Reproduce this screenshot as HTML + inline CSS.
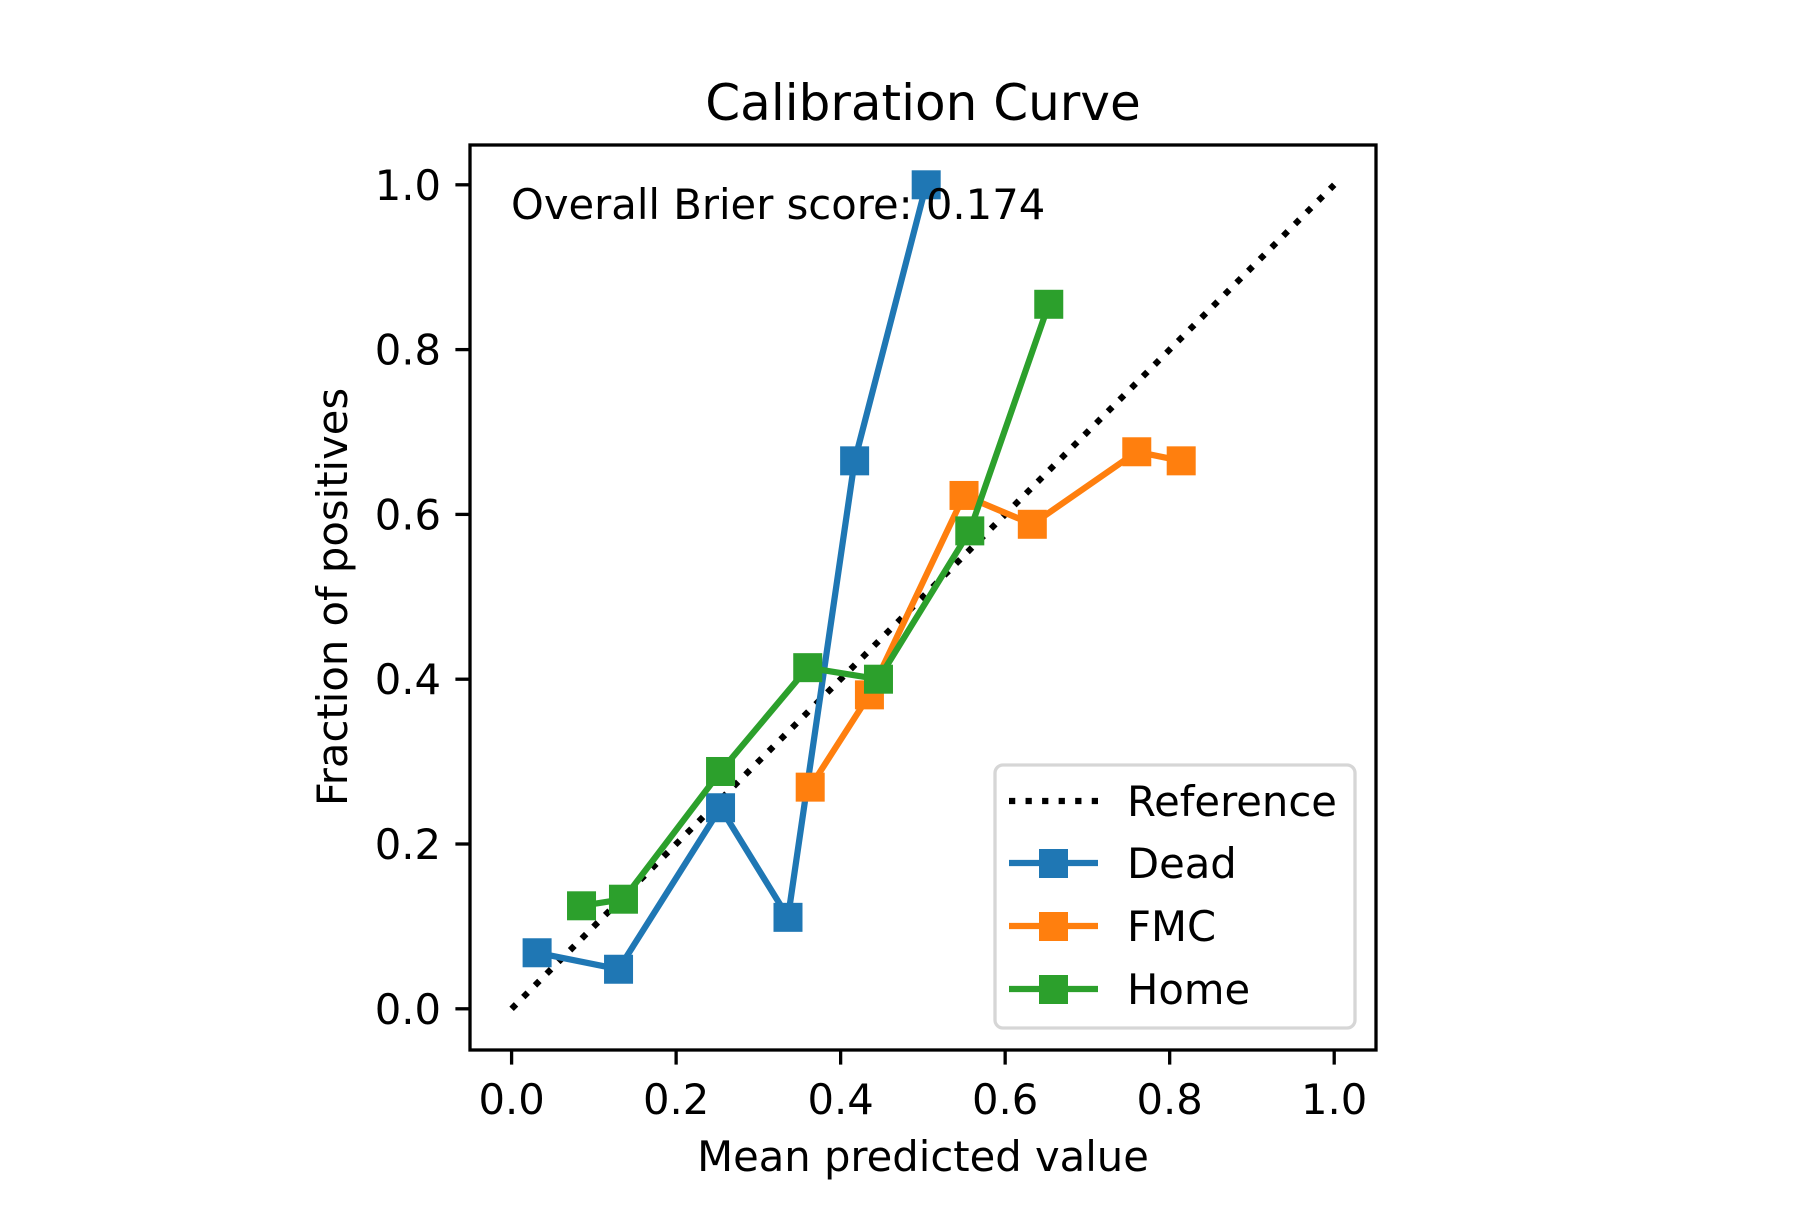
<!DOCTYPE html>
<html><head><meta charset="utf-8"><style>
html,body{margin:0;padding:0;background:#fff;}
svg text{font-family:"DejaVu Sans","Liberation Sans",sans-serif;fill:#000;}
</style></head><body>
<svg id="chart" width="1800" height="1200" viewBox="0 0 1800 1200" xmlns="http://www.w3.org/2000/svg">
<rect width="1800" height="1200" fill="#fff"/>
<text x="923" y="120" font-size="50" text-anchor="middle">Calibration Curve</text>
<g id="plot"></g>
<rect x="470" y="145" width="906" height="905" fill="none" stroke="#000" stroke-width="3.3"/>
<text x="511" y="219" font-size="41.7">Overall Brier score: 0.174</text>
<text x="923" y="1171" font-size="41.7" text-anchor="middle">Mean predicted value</text>
<text transform="translate(347,597) rotate(-90)" font-size="41.7" text-anchor="middle">Fraction of positives</text>
<g id="legend">
<rect x="995" y="765" width="360" height="263" rx="8" fill="#fff" fill-opacity="0.8" stroke="#d6d6d6" stroke-width="3.3"/>
<line x1="1009" y1="801" x2="1098" y2="801" stroke="#000" stroke-width="6.25" stroke-dasharray="6.25 10.3"/>
<text x="1127" y="816" font-size="41.7">Reference</text>
<line x1="1009" y1="863" x2="1098" y2="863" stroke="#1f77b4" stroke-width="6.25"/>
<rect x="1039" y="849" width="29" height="29" fill="#1f77b4"/>
<text x="1127" y="878" font-size="41.7">Dead</text>
<line x1="1009" y1="926" x2="1098" y2="926" stroke="#ff7f0e" stroke-width="6.25"/>
<rect x="1039" y="912" width="29" height="29" fill="#ff7f0e"/>
<text x="1127" y="941" font-size="41.7">FMC</text>
<line x1="1009" y1="989" x2="1098" y2="989" stroke="#2ca02c" stroke-width="6.25"/>
<rect x="1039" y="975" width="29" height="29" fill="#2ca02c"/>
<text x="1127" y="1004" font-size="41.7">Home</text>
</g>
</svg>
<script>
const xTicks = [0, 0.2, 0.4, 0.6, 0.8, 1.0];
const yTicks = [0, 0.2, 0.4, 0.6, 0.8, 1.0];
const xTickLabels = ["0.0","0.2","0.4","0.6","0.8","1.0"];
const yTickLabels = ["0.0","0.2","0.4","0.6","0.8","1.0"];
const refX = [0, 1];
const refY = [0, 1];
const deadX = [0.031, 0.130, 0.254, 0.336, 0.417, 0.504];
const deadY = [0.068, 0.048, 0.244, 0.111, 0.665, 1.0];
const fmcX = [0.363, 0.435, 0.550, 0.633, 0.760, 0.814];
const fmcY = [0.269, 0.381, 0.623, 0.588, 0.676, 0.665];
const homeX = [0.085, 0.136, 0.254, 0.360, 0.446, 0.557, 0.653];
const homeY = [0.125, 0.133, 0.288, 0.414, 0.400, 0.580, 0.855];

const NS = "http://www.w3.org/2000/svg";
function sx(v){ return 511.6 + v * 822.6; }
function sy(v){ return 1008.8 - v * 824; }
const plot = document.getElementById('plot');
const svg = document.getElementById('chart');
function mk(tag, attrs, parent){
  const e = document.createElementNS(NS, tag);
  for (const k in attrs) e.setAttribute(k, attrs[k]);
  (parent || plot).appendChild(e);
  return e;
}
xTicks.forEach((t, i) => {
  const l = mk('line', {x1: sx(t), x2: sx(t), y1: 1050, y2: 1064.6, stroke: '#000', 'stroke-width': 3.3}, svg);
  
  
  const tx = mk('text', {x: sx(t), y: 1114, 'font-size': 41.7, 'text-anchor': 'middle'}, svg);
  tx.textContent = xTickLabels[i];
  
  
});
yTicks.forEach((t, i) => {
  const l = mk('line', {x1: 455.4, x2: 470, y1: sy(t), y2: sy(t), stroke: '#000', 'stroke-width': 3.3}, svg);
  
  
  const tx = mk('text', {x: 441, y: sy(t) + 15, 'font-size': 41.7, 'text-anchor': 'end'}, svg);
  tx.textContent = yTickLabels[i];
  
  
});
const ref = mk('line', {x1: sx(refX[0]), y1: sy(refY[0]), x2: sx(refX[1]), y2: sy(refY[1]), stroke: '#000', 'stroke-width': 6.25, 'stroke-dasharray': '6.25 10.3'});


function series(xs, ys, color, name){
  const pts = xs.map((x, i) => sx(x) + ',' + sy(ys[i])).join(' ');
  const pl = mk('polyline', {points: pts, fill: 'none', stroke: color, 'stroke-width': 6.25, 'stroke-linejoin': 'round', 'stroke-linecap': 'square'});
  
  
  xs.forEach((x, i) => {
    const r = mk('rect', {x: sx(x) - 14.5, y: sy(ys[i]) - 14.5, width: 29, height: 29, fill: color});
    
    
  });
}
series(deadX, deadY, '#1f77b4', 'dead');
series(fmcX, fmcY, '#ff7f0e', 'fmc');
series(homeX, homeY, '#2ca02c', 'home');
</script>
</body></html>
